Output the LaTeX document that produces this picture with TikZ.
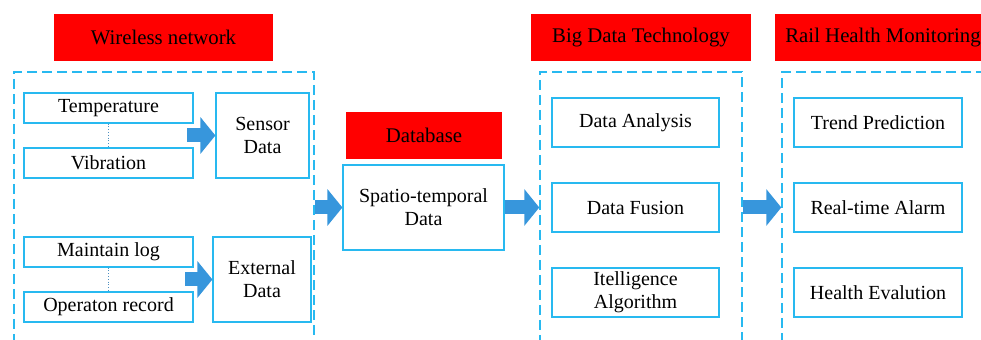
\documentclass[tikz,border=0pt]{standalone}
\usepackage{fontspec}
\setmainfont{Liberation Serif}
\usetikzlibrary{shapes,arrows.meta}
\definecolor{boxblue}{RGB}{40,185,240}
\definecolor{arrowblue}{RGB}{55,150,220}

\begin{document}
\begin{tikzpicture}[x=0.5pt, y=-0.5pt, font=\fontsize{10}{11.5}\selectfont]
\tikzstyle{vertexh}=[rectangle, fill=red, inner sep=0pt, minimum height=23.5pt, font=\fontsize{10.4}{12}\selectfont]
\tikzstyle{vertexr}=[rectangle, draw=boxblue, line width=0.6pt, inner sep=0pt, align=center]
\tikzstyle{framestyle}=[rectangle, draw=boxblue, line width=0.7pt, dash pattern=on 5pt off 2.5pt, inner sep=0pt, minimum height=139pt]
\tikzstyle{drawstyle}=[line width=7pt, draw=arrowblue, -{Triangle[length=7.5pt, width=18pt]}]
\tikzstyle{dotstyle}=[densely dotted, draw=arrowblue!70!gray, thin]

\useasboundingbox (0,0) rectangle (981,340);
\clip (0,0) rectangle (981,340);

\node[framestyle, minimum width=150pt] (F0) at (164,211) {};
\node[framestyle, minimum width=101pt] (F1) at (641,211) {};
\node[framestyle, minimum width=109pt] (F2) at (891,211) {};

\node[vertexh, minimum width=109.5pt] (H0) at (163.5,37.5) {Wireless network};
\node[vertexh, minimum width=78pt] (H1) at (424,135.5) {Database};
\node[vertexh, minimum width=110pt] (H2) at (641,38) {Big Data Technology};
\node[vertexh, minimum width=108pt] (H3) at (883,38) {Rail Health Monitoring};

\node[vertexr, minimum width=84.5pt, minimum height=15pt] (C0x0) at (108.5,108) {Temperature};
\node[vertexr, minimum width=84.5pt, minimum height=15pt] (C0x1) at (108.5,163) {Vibration};
\draw[dotstyle] (C0x0) -- (C0x1);
\node[vertexr, minimum width=84.5pt, minimum height=15pt] (C0x2) at (108.5,252) {Maintain log};
\node[vertexr, minimum width=84.5pt, minimum height=15pt] (C0x3) at (108.5,307) {Operaton record};
\draw[dotstyle] (C0x2) -- (C0x3);
\node[vertexr, minimum width=46.5pt, minimum height=42.5pt] (C1x0) at (262.5,135.5) {Sensor\\Data};
\node[vertexr, minimum width=49pt, minimum height=42.5pt] (C1x1) at (262,279.5) {External\\Data};
\node[vertexr, minimum width=80.5pt, minimum height=42.5pt] (C2x0) at (423.5,207.5) {Spatio-temporal\\Data};
\node[vertexr, minimum width=83.5pt, minimum height=24.5pt] (C3x0) at (635.5,122.5) {Data Analysis};
\node[vertexr, minimum width=83.5pt, minimum height=24.5pt] (C3x1) at (635.5,207.5) {Data Fusion};
\node[vertexr, minimum width=83.5pt, minimum height=24.5pt] (C3x2) at (635.5,292.5) {Itelligence\\Algorithm};
\node[vertexr, minimum width=84pt, minimum height=24.5pt] (C4x0) at (878,122.5) {Trend Prediction};
\node[vertexr, minimum width=84pt, minimum height=24.5pt] (C4x1) at (878,207.5) {Real-time Alarm};
\node[vertexr, minimum width=84pt, minimum height=24.5pt] (C4x2) at (878,292.5) {Health Evalution};

\coordinate (S0) at (187,135.5);
\coordinate (S1) at (185,279.5);
\draw[drawstyle] (S0) -- (C1x0.west);
\draw[drawstyle] (S1) -- (C1x1.west);
\draw[drawstyle] (F0.east |- C2x0.west) -- (C2x0.west);
\draw[drawstyle] (C2x0.east) -- (F1.west |- C2x0.east);
\draw[drawstyle] (F1.east |- C3x1.east) -- (F2.west |- C4x1.west);
\end{tikzpicture}
\end{document}
